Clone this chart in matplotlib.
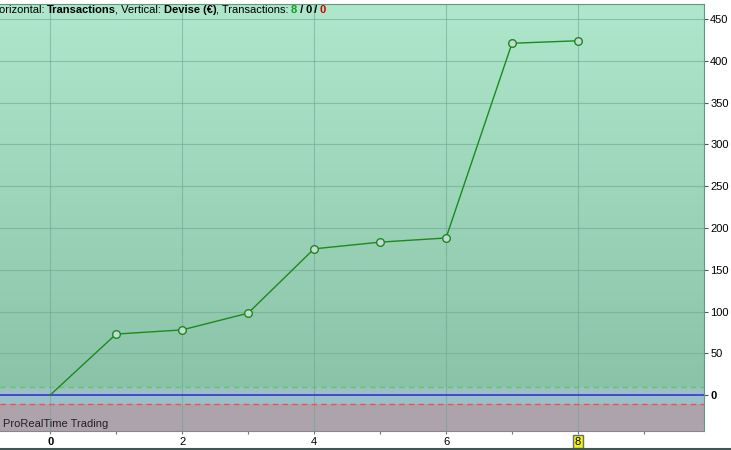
import matplotlib
matplotlib.use('Agg')
import matplotlib.pyplot as plt
import numpy as np
from matplotlib.colors import LinearSegmentedColormap

plt.rcParams['font.family'] = ['Liberation Sans', 'DejaVu Sans']

trades = [0, 1, 2, 3, 4, 5, 6, 7, 8]
equity = [0, 73, 78, 98, 175, 183, 188, 421, 424]
y_ticks = [0, 50, 100, 150, 200, 250, 300, 350, 400, 450]
x_ticks = [0, 2, 4, 6, 8]

W, H = 731, 450
fig = plt.figure(figsize=(W / 100, H / 100), dpi=100)
ax = fig.add_axes([0, 19 / H, 704 / W, 427 / H])

xmin, xmax = -0.76, 9.91
ymin, ymax = -43, 468
ax.set_xlim(xmin, xmax)
ax.set_ylim(ymin, ymax)

# gradient background
grad = LinearSegmentedColormap.from_list('g', ['#8ac3a7', '#aee7cc'])
ax.imshow(np.linspace(0, 1, 256).reshape(-1, 1), cmap=grad, aspect='auto',
          extent=[xmin, xmax, 10, ymax], origin='lower', zorder=0)
ax.axhspan(-11, 10, color='#9dbfc8', zorder=0.5, lw=0)
ax.axhspan(ymin, -11, color='#ada3ad', zorder=0.5, lw=0)

for v in y_ticks[1:]:
    ax.axhline(v, color='#6fa88e', lw=0.8, alpha=0.6, zorder=1)
for v in x_ticks:
    ax.axvline(v, color='#6fa88e', lw=0.8, alpha=0.6, zorder=1)

ax.axhline(10, color='#5ccc5c', lw=1, ls=(0, (4, 3)), zorder=2)
ax.axhline(-11, color='#f05050', lw=1, ls=(0, (4, 3)), zorder=2)
ax.axhline(0, color='#2030d0', lw=1.1, zorder=2)

ax.plot(trades, equity, color='#1d8a1d', lw=1, zorder=3)
ax.plot(trades[1:], equity[1:], 'o', ms=5.5, mfc='#c5d9d6', mec='#1d8a1d',
        mew=1, zorder=4)

ax.yaxis.tick_right()
ax.set_yticks(y_ticks)
ax.set_yticklabels([str(v) for v in y_ticks], fontsize=8)
ax.get_yticklabels()[0].set_fontweight('bold')
ax.set_xticks(x_ticks)
ax.set_xticks([1, 3, 5, 7, 9], minor=True)
ax.set_xticklabels([str(v) for v in x_ticks], fontsize=8)
ax.get_xticklabels()[0].set_fontweight('bold')
ax.get_xticklabels()[-1].set_bbox(dict(facecolor='#f5f500', edgecolor='#607080', pad=1.2, lw=1))
ax.tick_params(axis='y', length=3, width=0.8, color='#555555', pad=1.5)
ax.tick_params(axis='x', which='both', length=2, width=0.8, color='#777777', pad=2)

for s in ['top', 'right']:
    ax.spines[s].set_color('#5f9a7f')
ax.spines['bottom'].set_color('#888888')
ax.spines['left'].set_visible(False)

# header built from pieces
parts = [('Horizontal: ', 'normal', 'black'), ('Transactions', 'bold', 'black'),
         (', Vertical: ', 'normal', 'black'), ('Devise (€)', 'bold', 'black'),
         (', Transactions: ', 'normal', 'black'), ('8', 'bold', '#1a9a1a'),
         (' / ', 'bold', 'black'), ('0', 'bold', 'black'), (' / ', 'bold', 'black'),
         ('0', 'bold', '#cc0000')]
fig.canvas.draw()
r = fig.canvas.get_renderer()
x = -9
for txt, wt, col in parts:
    t = fig.text(x / W, 1 - 13 / H, txt, fontsize=8, fontweight=wt, color=col,
                 ha='left', va='baseline')
    bb = t.get_window_extent(renderer=r)
    x += bb.width - 0.6

fig.text(3 / W, 1 - 427 / H, 'ProRealTime Trading', fontsize=8, color='#222222',
         ha='left', va='baseline')

fig.add_artist(plt.Line2D([0, 1], [1 / H, 1 / H], color='#445555', lw=1.5))
fig.savefig('out.png', dpi=100)
